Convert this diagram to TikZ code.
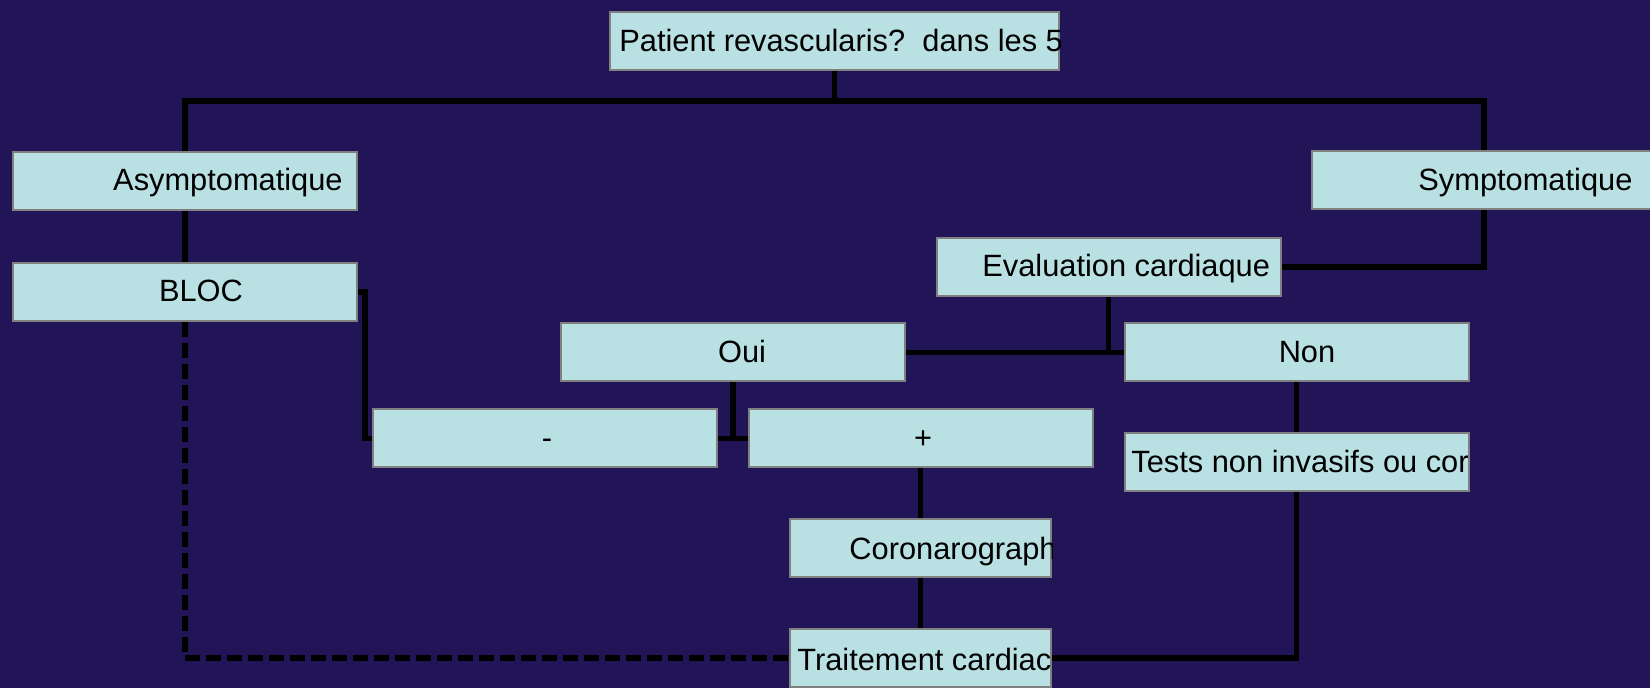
\documentclass[tikz,border=0pt]{standalone}
\usepackage{fontspec}
\setmainfont{Liberation Sans}
\usetikzlibrary{calc}
\definecolor{bgnavy}{RGB}{33,20,87}
\definecolor{boxcyan}{RGB}{185,224,227}
\definecolor{boxgrey}{RGB}{128,128,128}

\begin{document}
\begin{tikzpicture}[x=0.5pt, y=-0.5pt,
		box/.style={rectangle, draw=boxgrey, line width=1pt, fill=boxcyan, inner sep=0pt, minimum width=172pt, minimum height=29pt},
		lbl/.style={font=\fontsize{15.4}{18}\selectfont, inner sep=0pt, text=black},
		link/.style={line width=2.9pt, draw=black},
		dashlink/.style={link, dash pattern=on 7.5pt off 3pt}]
			%%%%% START %%%%%
			
			\clip (0, 0) rectangle (1650, 688);
			\fill[bgnavy] (0, 0) rectangle (1650, 688);
			
			% boxes
			\node[box, minimum width=224.5pt] (top) at (834.5, 41) {};
			\node[box] (asym) at (185, 181) {};
			\node[box] (sym) at (1484, 180.5) {};
			\node[box] (bloc) at (185, 292) {};
			\node[box] (eval) at (1108.5, 267) {};
			\node[box] (oui) at (733, 352.5) {};
			\node[box] (non) at (1296.5, 352.5) {};
			\node[box] (minus) at (544.5, 438.5) {};
			\node[box] (plus) at (920.5, 438.5) {};
			\node[box] (tests) at (1296.5, 462) {};
			\node[box, minimum width=130.5pt] (coro) at (920.5, 548.5) {};
			\node[box, minimum width=130.5pt] (trait) at (920.5, 658) {};
			
			% texts
			\node[lbl, anchor=base east] (asymtxt) at (343, 191) {Asymptomatique};
			\node[lbl, anchor=base west] (symtxt) at (1418, 191) {Symptomatique};
			\node[lbl, anchor=base] (bloctxt) at (201, 302) {BLOC};
			\node[lbl, anchor=base west] (evaltxt) at (982, 277) {Evaluation cardiaque};
			\node[lbl, anchor=base] (ouitxt) at (742, 363) {Oui};
			\node[lbl, anchor=base] (nontxt) at (1307, 363) {Non};
			\node[lbl, anchor=base] (minustxt) at (547, 449) {-};
			\node[lbl, anchor=base] (plustxt) at (923, 449) {+};
			\begin{scope}
				\clip (top.south west) rectangle (top.north east);
				\node[lbl, anchor=base west] (toptxt) at (619, 52) {Patient revascularis?\hspace{0.56em}dans les 5};
			\end{scope}
			\begin{scope}
				\clip (tests.south west) rectangle (tests.north east);
				\node[lbl, anchor=base west] (teststxt) at (1131, 473) {Tests non invasifs ou cor};
			\end{scope}
			\begin{scope}
				\clip (coro.south west) rectangle (coro.north east);
				\node[lbl, anchor=base west] (corotxt) at (849, 560) {Coronarograph};
			\end{scope}
			\begin{scope}
				\clip (trait.south west) rectangle (trait.north east);
				\node[lbl, anchor=base west] (traittxt) at (797, 671) {Traitement cardiac};
			\end{scope}
			
			% connectors
			\coordinate (bus) at (834.5, 101);
			\draw[link] (top.south) -- (bus);
			\draw[link] (asym.north) |- (bus) -| (sym.north);
			\draw[link] (asym.south) -- (bloc.north);
			\draw[link] (bloc.east) -- ++(7, 0) |- (minus.west);
			\draw[dashlink] (bloc.south) |- (trait.west);
			\draw[link] (sym.south) |- (eval.east);
			\draw[link] (oui.east) -- (non.west);
			\draw[link] (eval.south) -- (eval.south |- oui.east);
			\draw[link] (minus.east) -- (plus.west);
			\draw[link] (oui.south) -- (oui.south |- minus.east);
			\draw[link] (plus.south) -- (coro.north);
			\draw[link] (coro.south) -- (trait.north);
			\draw[link] (non.south) -- (tests.north);
			\draw[link] (tests.south) |- (trait.east);
			
			%%%%% END %%%%%
		\end{tikzpicture}
\end{document}
